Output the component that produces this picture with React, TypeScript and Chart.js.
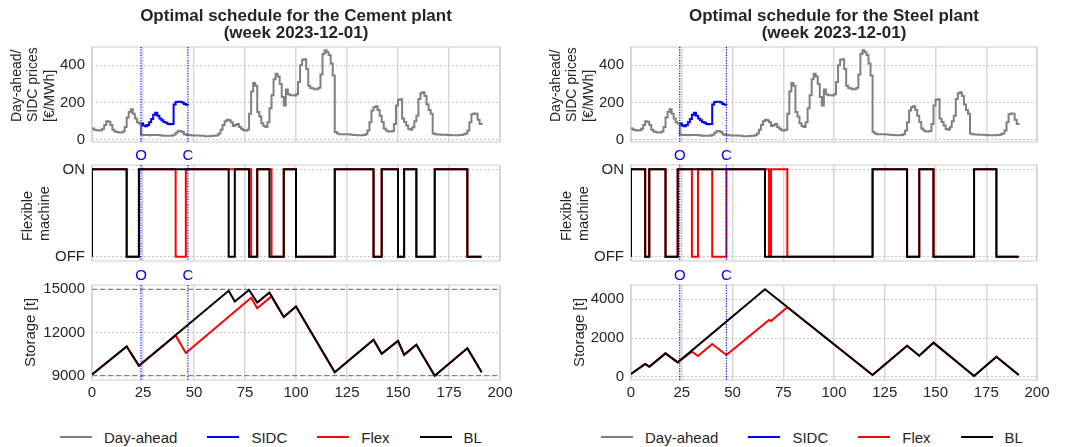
import React, { useEffect, useRef } from 'react';
import { Chart, registerables } from 'chart.js';

Chart.register(...registerables);

const FONT = "'Liberation Sans', Arial, Helvetica, sans-serif";
const TEXT = '#262626';

// ---------------- data ----------------
const hours = Array.from({ length: 192 }, (_, i) => i);
const dayAheadPrice = [
  62, 55, 52, 50, 52, 60, 80, 100, 98, 80, 55, 45, 42, 40, 40, 45, 70, 120, 150, 165, 140, 115, 95, 88,
  28, 27, 26, 26, 25, 26, 27, 27, 26, 25, 24, 23, 22, 22, 22, 24, 28, 38, 47, 48, 42, 30, 27, 26,
  25, 24, 24, 24, 24, 23, 22, 20, 20, 20, 21, 22, 22, 25, 35, 55, 80, 100, 108, 105, 95, 75, 80, 85,
  70, 60, 52, 50, 55, 140, 260, 305, 290, 150, 125, 90, 75, 70, 95, 170, 240, 325, 355, 340, 300, 230, 185, 270,
  245, 240, 240, 238, 245, 310, 400, 430, 432, 380, 290, 278, 275, 272, 272, 280, 350, 460, 480, 470, 455, 410, 345, 42,
  34, 30, 30, 30, 30, 30, 29, 28, 27, 26, 25, 25, 25, 26, 30, 50, 95, 158, 175, 180, 160, 130, 96, 62,
  50, 45, 45, 48, 85, 185, 215, 218, 115, 96, 78, 58, 55, 68, 100, 130, 220, 250, 255, 235, 190, 160, 140, 35,
  30, 29, 29, 28, 28, 28, 27, 26, 25, 25, 25, 25, 26, 27, 30, 35, 50, 95, 138, 142, 140, 108, 85, 82,
];
const sidcHours = Array.from({ length: 24 }, (_, i) => 24 + i);
const sidcPrice = [
  88, 78, 74, 80, 95, 112, 135, 146, 130, 115, 105, 96, 92, 86, 84, 86, 190, 203, 205, 204, 200, 193, 188, 186,
];
const gateHours = [24, 47];
const gateLabels = ['O', 'C'];

const xTickValues = [0, 25, 50, 75, 100, 125, 150, 175, 200];
const priceTickValues = [0, 200, 400];
const flexTickValues = [0, 1];
const flexTickLabels = ['OFF', 'ON'];
const cementStorageTicks = [9000, 12000, 15000];
const steelStorageTicks = [0, 2000, 4000];
const cementStorageBounds = [9000, 15000];

// schedules: [hour, state] (1 = ON, 0 = OFF)
const cementBLSchedule = [[0, 0], [0, 1], [17, 0], [23, 1], [67, 0], [70, 1], [77, 0], [81, 1], [87, 0], [94, 1], [100, 0], [119, 1], [138, 0], [142, 1], [150, 0], [153, 1], [159, 0], [168, 1], [184, 0], [191, 0]];
const cementFlexSchedule = [[0, 0], [0, 1], [17, 0], [23, 1], [41, 0], [46, 1], [78, 0], [81, 1], [88, 0], [94, 1], [100, 0], [119, 1], [138, 0], [142, 1], [150, 0], [153, 1], [159, 0], [168, 1], [184, 0], [191, 0]];
const steelBLSchedule = [[0, 0], [0, 1], [7, 0], [9, 1], [17, 0], [23, 1], [66, 0], [119, 1], [136, 0], [142, 1], [149, 0], [169, 1], [180, 0], [191, 0]];
const steelFlexSchedule = [[0, 0], [0, 1], [7, 0], [9, 1], [17, 0], [23, 1], [30, 0], [33, 1], [40, 0], [47, 1], [68, 0], [69, 1], [77, 0], [119, 1], [136, 0], [142, 1], [149, 0], [169, 1], [180, 0], [191, 0]];

// storage: [hour, tonnes]
const cementBLStorage = [[0, 9080], [17, 11030], [23, 9690], [67, 14900], [70, 14150], [77, 14960], [81, 14080], [87, 14770], [94, 13080], [100, 13800], [119, 9240], [138, 11490], [142, 10520], [150, 11420], [153, 10450], [159, 11150], [168, 9000], [184, 10910], [191, 9240]];
const cementFlexStorage = [[0, 9080], [17, 11030], [23, 9690], [41, 11800], [46, 10580], [78, 14420], [81, 13690], [88, 14510], [94, 13080], [100, 13800], [119, 9240], [138, 11490], [142, 10520], [150, 11420], [153, 10450], [159, 11150], [168, 9000], [184, 10910], [191, 9240]];
const steelBLStorage = [[0, 140], [7, 655], [9, 517], [17, 1207], [23, 741], [66, 4517], [119, 86], [136, 1603], [142, 1086], [149, 1758], [169, 34], [180, 1034], [191, 86]];
const steelFlexStorage = [[0, 140], [7, 655], [9, 517], [17, 1207], [23, 741], [30, 1293], [33, 1069], [40, 1690], [47, 1120], [68, 2931], [69, 2879], [77, 3590], [119, 86], [136, 1603], [142, 1086], [149, 1758], [169, 34], [180, 1034], [191, 86]];

const legendItems = [
  { label: 'Day-ahead', color: '#808080' },
  { label: 'SIDC', color: '#0000ff' },
  { label: 'Flex', color: '#ff0000' },
  { label: 'BL', color: '#000000' },
];

// ---------------- layout ----------------
const columns = [
  {
    title: ['Optimal schedule for the Cement plant', '(week 2023-12-01)'],
    left: 0, width: 540, yAxisWidth: 92, padRight: 40, legendLeft: 60,
    bl: cementBLSchedule, flex: cementFlexSchedule,
    blStore: cementBLStorage, flexStore: cementFlexStorage,
    storeMin: 8700, storeMax: 15300, storeTicks: cementStorageTicks, storeTitleX: -61,
    hlines: cementStorageBounds,
  },
  {
    title: ['Optimal schedule for the Steel plant', '(week 2023-12-01)'],
    left: 540, width: 534, yAxisWidth: 91, padRight: 37, legendLeft: 601,
    bl: steelBLSchedule, flex: steelFlexSchedule,
    blStore: steelBLStorage, flexStore: steelFlexStorage,
    storeMin: -170, storeMax: 4740, storeTicks: steelStorageTicks, storeTitleX: -51,
    hlines: [] as number[],
  },
];

const rows = [
  { kind: 'price', top: 0, height: 150, padTop: 0, padBottom: 8 },
  { kind: 'flex', top: 150, height: 115, padTop: 15, padBottom: 4 },
  { kind: 'store', top: 265, height: 150, padTop: 20, padBottom: 5 },
];

type YTitle = { lines: string[]; xs: number[]; mode: 'bottom' | 'center'; offset?: number; size: number };

function decor(cfg: { hlines: number[]; labels: boolean; ytitle: YTitle }) {
  return {
    id: 'decor',
    beforeDatasetsDraw(chart: any) {
      const { ctx, chartArea: a, scales } = chart;
      ctx.save();
      if (cfg.hlines.length) {
        ctx.strokeStyle = '#808080';
        ctx.lineWidth = 1.2;
        ctx.setLineDash([5, 3]);
        cfg.hlines.forEach((v) => {
          const y = scales.y.getPixelForValue(v);
          ctx.beginPath();
          ctx.moveTo(a.left, y);
          ctx.lineTo(a.right, y);
          ctx.stroke();
        });
      }
      ctx.setLineDash([]);
      ctx.strokeStyle = '#cccccc';
      ctx.lineWidth = 1;
      ctx.strokeRect(a.left, a.top, a.right - a.left, a.bottom - a.top);
      ctx.restore();
    },
    afterDatasetsDraw(chart: any) {
      const { ctx, chartArea: a, scales } = chart;
      ctx.save();
      ctx.strokeStyle = '#0000ff';
      ctx.lineWidth = 1.2;
      ctx.setLineDash([1.2, 1.4]);
      gateHours.forEach((h) => {
        const x = scales.x.getPixelForValue(h);
        ctx.beginPath();
        ctx.moveTo(x, a.top);
        ctx.lineTo(x, a.bottom);
        ctx.stroke();
      });
      ctx.restore();
    },
    afterDraw(chart: any) {
      const { ctx, chartArea: a, scales } = chart;
      ctx.save();
      if (cfg.labels) {
        ctx.fillStyle = '#0000ff';
        ctx.font = `15px ${FONT}`;
        ctx.textAlign = 'center';
        ctx.textBaseline = 'alphabetic';
        gateHours.forEach((h, i) => {
          ctx.fillText(gateLabels[i], scales.x.getPixelForValue(h), a.top - 5);
        });
      }
      const t = cfg.ytitle;
      ctx.fillStyle = TEXT;
      ctx.font = `${t.size}px ${FONT}`;
      ctx.textBaseline = 'middle';
      t.lines.forEach((line, i) => {
        const y = t.mode === 'bottom' ? a.top + (t.offset || 0) : (a.top + a.bottom) / 2;
        ctx.save();
        ctx.translate(a.left + t.xs[i], y);
        ctx.rotate(-Math.PI / 2);
        ctx.textAlign = t.mode === 'bottom' ? 'left' : 'center';
        ctx.fillText(line, 0, 0);
        ctx.restore();
      });
      ctx.restore();
    },
  };
}

function xScale(showLabels: boolean) {
  return {
    type: 'linear',
    min: 0,
    max: 200,
    afterBuildTicks: (ax: any) => { ax.ticks = xTickValues.map((v) => ({ value: v })); },
    afterFit: (ax: any) => { ax.height = showLabels ? 30 : 0; ax.paddingLeft = 0; ax.paddingRight = 0; },
    ticks: {
      display: showLabels, color: TEXT, font: { family: FONT, size: 15 }, padding: 4,
      maxRotation: 0, autoSkip: false, callback: (v: any) => String(v),
    },
    grid: { color: '#d8d8d8', lineWidth: 1.5, drawTicks: false },
    border: { display: false },
  };
}

function yScale(min: number, max: number, ticks: number[], width: number, labelFn: (v: number) => string) {
  return {
    type: 'linear',
    min,
    max,
    afterBuildTicks: (ax: any) => { ax.ticks = ticks.map((v) => ({ value: v })); },
    afterFit: (ax: any) => { ax.width = width; ax.paddingTop = 0; ax.paddingBottom = 0; },
    ticks: { color: TEXT, font: { family: FONT, size: 15 }, padding: 7, autoSkip: false, callback: (v: any) => labelFn(Number(v)) },
    grid: { color: '#c8c8c8', lineWidth: 1, drawTicks: false },
    border: { display: false, dash: [2, 2] },
  };
}

const pts = (arr: number[][]) => arr.map(([x, y]) => ({ x, y }));

function buildConfig(col: any, row: any) {
  let datasets: any[] = [];
  let y: any;
  let ytitle: YTitle;
  let title: any = { display: false };
  if (row.kind === 'price') {
    datasets = [
      { label: 'SIDC', data: sidcHours.map((h, i) => ({ x: h, y: sidcPrice[i] })), borderColor: '#0000ff', borderWidth: 2, pointRadius: 0, stepped: true },
      { label: 'Day-ahead', data: hours.map((h, i) => ({ x: h, y: dayAheadPrice[i] })), borderColor: '#808080', borderWidth: 2, pointRadius: 0, stepped: true },
    ];
    y = yScale(-11, 498, priceTickValues, col.yAxisWidth, (v) => String(v));
    ytitle = { lines: ['Day-ahead/', 'SIDC prices', '[€/MWh]'], xs: [-75, -59, -42], mode: 'bottom', offset: 75, size: 14 };
    title = {
      display: true, text: col.title, color: TEXT, fullSize: false,
      font: { family: FONT, size: 17, weight: 'bold', lineHeight: 1 },
      padding: { top: 7.5, bottom: 5.5 },
    };
  } else if (row.kind === 'flex') {
    datasets = [
      { label: 'BL', data: pts(col.bl), borderColor: '#000000', borderWidth: 2, pointRadius: 0, stepped: true, clip: 0 },
      { label: 'Flex', data: pts(col.flex), borderColor: '#ff0000', borderWidth: 2, pointRadius: 0, stepped: true, clip: 0 },
    ];
    y = yScale(-0.05, 1.05, flexTickValues, col.yAxisWidth, (v) => flexTickLabels[flexTickValues.indexOf(v)] ?? '');
    ytitle = { lines: ['Flexible', 'machine'], xs: [-64, -47.5], mode: 'bottom', offset: 76, size: 14.5 };
  } else {
    datasets = [
      { label: 'BL', data: pts(col.blStore), borderColor: '#000000', borderWidth: 2, pointRadius: 0 },
      { label: 'Flex', data: pts(col.flexStore), borderColor: '#ff0000', borderWidth: 2, pointRadius: 0 },
    ];
    y = yScale(col.storeMin, col.storeMax, col.storeTicks, col.yAxisWidth, (v) => String(v));
    ytitle = { lines: ['Storage [t]'], xs: [col.storeTitleX], mode: 'center', size: 15 };
  }
  return {
    type: 'line',
    data: { datasets },
    options: {
      animation: false,
      responsive: false,
      devicePixelRatio: 1,
      events: [],
      layout: { padding: { left: 0, right: col.padRight, top: row.padTop, bottom: row.padBottom } },
      scales: { x: xScale(row.kind === 'store'), y },
      plugins: { legend: { display: false }, tooltip: { enabled: false }, title },
    },
    plugins: [decor({ hlines: row.kind === 'store' ? col.hlines : [], labels: row.kind !== 'price', ytitle })],
  };
}

export default function App() {
  const refs = useRef<(HTMLCanvasElement | null)[]>([]);
  useEffect(() => {
    const charts: Chart[] = [];
    columns.forEach((col, ci) => {
      rows.forEach((row, ri) => {
        const canvas = refs.current[ci * 3 + ri];
        if (canvas) charts.push(new Chart(canvas, buildConfig(col, row) as any));
      });
    });
    return () => charts.forEach((c) => c.destroy());
  }, []);

  return (
    <div style={{ position: 'absolute', left: 0, top: 0, width: 1074, height: 447, background: '#ffffff', overflow: 'hidden', fontFamily: FONT }}>
      {columns.map((col, ci) =>
        rows.map((row, ri) => (
          <canvas
            key={`${ci}-${ri}`}
            ref={(el) => { refs.current[ci * 3 + ri] = el; }}
            width={col.width}
            height={row.height}
            style={{ position: 'absolute', left: col.left, top: row.top, width: col.width, height: row.height }}
          />
        ))
      )}
      {columns.map((col, ci) => (
        <div key={`leg-${ci}`} style={{ position: 'absolute', left: col.legendLeft, top: 427, height: 20, display: 'flex', alignItems: 'center', whiteSpace: 'nowrap', fontSize: 15, color: TEXT, fontFamily: FONT }}>
          {legendItems.map((it, i) => (
            <div key={it.label} style={{ display: 'flex', alignItems: 'center', marginRight: i < legendItems.length - 1 ? 30 : 0 }}>
              <span style={{ display: 'inline-block', width: 32, height: 2, background: it.color, marginRight: 12 }} />
              <span>{it.label}</span>
            </div>
          ))}
        </div>
      ))}
    </div>
  );
}
